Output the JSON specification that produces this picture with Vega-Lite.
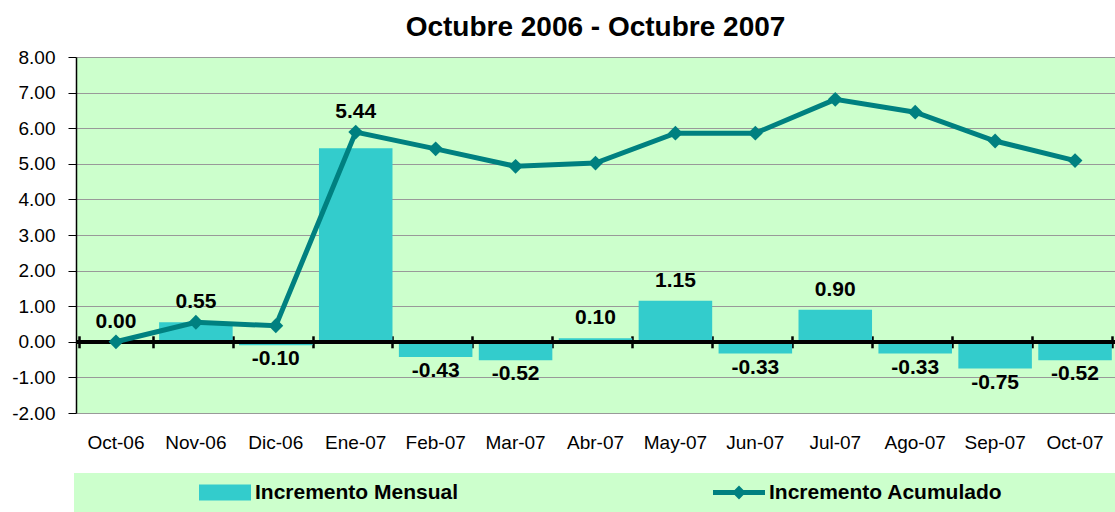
{
  "$schema": "https://vega.github.io/schema/vega-lite/v6.json",
  "width": 1039,
  "height": 356,
  "autosize": {"type": "none"},
  "padding": {"left": 76, "top": 57, "right": 0, "bottom": 99},
  "background": "white",
  "title": {
    "text": "Octubre 2006 - Octubre 2007",
    "font": "Liberation Sans",
    "fontSize": 28,
    "fontWeight": "bold",
    "color": "black",
    "anchor": "middle",
    "offset": 6
  },
  "data": {
    "values": [
      {"mes": "Oct-06", "mensual": 0.00, "acum": 0.00},
      {"mes": "Nov-06", "mensual": 0.55, "acum": 0.55},
      {"mes": "Dic-06", "mensual": -0.10, "acum": 0.45},
      {"mes": "Ene-07", "mensual": 5.44, "acum": 5.89},
      {"mes": "Feb-07", "mensual": -0.43, "acum": 5.42},
      {"mes": "Mar-07", "mensual": -0.52, "acum": 4.93},
      {"mes": "Abr-07", "mensual": 0.10, "acum": 5.02},
      {"mes": "May-07", "mensual": 1.15, "acum": 5.86},
      {"mes": "Jun-07", "mensual": -0.33, "acum": 5.86},
      {"mes": "Jul-07", "mensual": 0.90, "acum": 6.81},
      {"mes": "Ago-07", "mensual": -0.33, "acum": 6.45},
      {"mes": "Sep-07", "mensual": -0.75, "acum": 5.64},
      {"mes": "Oct-07", "mensual": -0.52, "acum": 5.09}
    ]
  },
  "resolve": {"axis": {"x": "independent"}},
  "layer": [
    {
      "mark": {"type": "bar"},
      "encoding": {
        "x": {
          "field": "mes", "type": "nominal", "sort": null,
          "scale": {"paddingInner": 0.08, "paddingOuter": 0.04},
          "axis": {
            "orient": "bottom", "title": null, "labelAngle": 0,
            "ticks": false, "domain": false, "grid": false,
            "labelPadding": 20, "labelFont": "Liberation Sans",
            "labelFontSize": 19, "labelColor": "black"
          }
        },
        "y": {
          "field": "mensual", "type": "quantitative",
          "scale": {"domain": [-2, 8], "nice": false, "zero": false},
          "axis": {
            "title": null, "orient": "left", "values": [-2, -1, 0, 1, 2, 3, 4, 5, 6, 7, 8],
            "format": ".2f", "grid": true, "gridColor": "#999999", "gridWidth": 1,
            "domain": true, "domainColor": "black", "domainWidth": 1.5,
            "ticks": true, "tickColor": "black", "tickSize": 8, "tickWidth": 1,
            "labelPadding": 13, "labelFont": "Liberation Sans",
            "labelFontSize": 19, "labelColor": "black"
          }
        },
        "color": {
          "datum": "Incremento Mensual",
          "scale": {
            "domain": ["Incremento Mensual", "Incremento Acumulado"],
            "range": ["#33CCCC", "#008080"]
          },
          "legend": {
            "orient": "none", "legendX": -2, "legendY": 416,
            "direction": "horizontal", "title": null,
            "fillColor": "#CCFFCC", "padding": 9, "clipHeight": 21,
            "symbolSize": 2704, "symbolStrokeWidth": 0,
            "symbolOffset": 116, "labelOffset": 4, "columnPadding": 138,
            "labelFont": "Liberation Sans", "labelFontSize": 21,
            "labelFontWeight": "bold", "labelColor": "black", "labelLimit": 900,
            "labelExpr": "datum.label === 'Incremento Acumulado' ? datum.label + '\u00a0\u00a0\u00a0\u00a0\u00a0\u00a0\u00a0\u00a0\u00a0\u00a0\u00a0\u00a0\u00a0\u00a0\u00a0\u00a0\u00a0\u00a0\u200b' : datum.label",
            "encode": {
              "symbols": {
                "update": {
                  "shape": {"signal": "datum.value === 'Incremento Mensual' ? 'M-1,-0.31H1V0.31H-1Z' : 'M-1,-0.1H-0.17L0,-0.27L0.17,-0.1H1V0.1H0.17L0,0.27L-0.17,0.1H-1Z'"},
                  "fill": {"signal": "datum.value === 'Incremento Mensual' ? '#33CCCC' : '#008080'"},
                  "stroke": {"value": "transparent"},
                  "opacity": {"value": 1}
                }
              }
            }
          }
        }
      }
    },
    {
      "mark": {"type": "rule", "color": "black", "strokeWidth": 3.5},
      "encoding": {
        "y": {
          "datum": 0, "type": "quantitative",
          "scale": {"domain": [-2, 8], "nice": false, "zero": false},
          "axis": {
            "title": null, "orient": "left", "values": [-2, -1, 0, 1, 2, 3, 4, 5, 6, 7, 8],
            "format": ".2f", "grid": true, "gridColor": "#999999", "gridWidth": 1,
            "domain": true, "domainColor": "black", "domainWidth": 1.5,
            "ticks": true, "tickColor": "black", "tickSize": 8, "tickWidth": 1,
            "labelPadding": 13, "labelFont": "Liberation Sans",
            "labelFontSize": 19, "labelColor": "black"
          }
        }
      }
    },
    {
      "mark": {"type": "line", "strokeWidth": 5},
      "encoding": {
        "x": {
          "field": "mes", "type": "nominal", "sort": null,
          "axis": {
            "orient": "bottom", "offset": -77.2, "title": null,
            "labels": false, "domain": false, "grid": false,
            "ticks": true, "tickBand": "extent", "tickSize": 12,
            "tickWidth": 2.5, "tickColor": "black"
          }
        },
        "y": {
          "field": "acum", "type": "quantitative",
          "scale": {"domain": [-2, 8], "nice": false, "zero": false},
          "axis": {
            "title": null, "orient": "left", "values": [-2, -1, 0, 1, 2, 3, 4, 5, 6, 7, 8],
            "format": ".2f", "grid": true, "gridColor": "#999999", "gridWidth": 1,
            "domain": true, "domainColor": "black", "domainWidth": 1.5,
            "ticks": true, "tickColor": "black", "tickSize": 8, "tickWidth": 1,
            "labelPadding": 13, "labelFont": "Liberation Sans",
            "labelFontSize": 19, "labelColor": "black"
          }
        },
        "color": {"datum": "Incremento Acumulado"}
      }
    },
    {
      "mark": {"type": "point", "shape": "diamond", "filled": true, "size": 220, "color": "#008080", "opacity": 1},
      "encoding": {
        "x": {"field": "mes", "type": "nominal", "sort": null, "axis": null},
        "y": {
          "field": "acum", "type": "quantitative",
          "scale": {"domain": [-2, 8], "nice": false, "zero": false},
          "axis": {
            "title": null, "orient": "left", "values": [-2, -1, 0, 1, 2, 3, 4, 5, 6, 7, 8],
            "format": ".2f", "grid": true, "gridColor": "#999999", "gridWidth": 1,
            "domain": true, "domainColor": "black", "domainWidth": 1.5,
            "ticks": true, "tickColor": "black", "tickSize": 8, "tickWidth": 1,
            "labelPadding": 13, "labelFont": "Liberation Sans",
            "labelFontSize": 19, "labelColor": "black"
          }
        }
      }
    },
    {
      "transform": [
        {"filter": "datum.mensual >= 0"},
        {"calculate": "datum.acum > datum.mensual && datum.acum - datum.mensual < 1 ? datum.acum : datum.mensual", "as": "posEtiqueta"}
      ],
      "mark": {"type": "text", "baseline": "alphabetic", "dy": -14, "font": "Liberation Sans", "fontSize": 21, "fontWeight": "bold", "color": "black"},
      "encoding": {
        "x": {"field": "mes", "type": "nominal", "sort": null, "axis": null},
        "y": {
          "field": "posEtiqueta", "type": "quantitative",
          "scale": {"domain": [-2, 8], "nice": false, "zero": false},
          "axis": {
            "title": null, "orient": "left", "values": [-2, -1, 0, 1, 2, 3, 4, 5, 6, 7, 8],
            "format": ".2f", "grid": true, "gridColor": "#999999", "gridWidth": 1,
            "domain": true, "domainColor": "black", "domainWidth": 1.5,
            "ticks": true, "tickColor": "black", "tickSize": 8, "tickWidth": 1,
            "labelPadding": 13, "labelFont": "Liberation Sans",
            "labelFontSize": 19, "labelColor": "black"
          }
        },
        "text": {"field": "mensual", "type": "quantitative", "format": ".2f"}
      }
    },
    {
      "transform": [{"filter": "datum.mensual < 0"}],
      "mark": {"type": "text", "baseline": "top", "dy": 3, "font": "Liberation Sans", "fontSize": 21, "fontWeight": "bold", "color": "black"},
      "encoding": {
        "x": {"field": "mes", "type": "nominal", "sort": null, "axis": null},
        "y": {
          "field": "mensual", "type": "quantitative",
          "scale": {"domain": [-2, 8], "nice": false, "zero": false},
          "axis": {
            "title": null, "orient": "left", "values": [-2, -1, 0, 1, 2, 3, 4, 5, 6, 7, 8],
            "format": ".2f", "grid": true, "gridColor": "#999999", "gridWidth": 1,
            "domain": true, "domainColor": "black", "domainWidth": 1.5,
            "ticks": true, "tickColor": "black", "tickSize": 8, "tickWidth": 1,
            "labelPadding": 13, "labelFont": "Liberation Sans",
            "labelFontSize": 19, "labelColor": "black"
          }
        },
        "text": {"field": "mensual", "type": "quantitative", "format": ".2f"}
      }
    }
  ],
  "config": {
    "view": {"fill": "#CCFFCC", "stroke": null},
    "font": "Liberation Sans",
    "locale": {
      "number": {"decimal": ".", "thousands": ",", "grouping": [3], "currency": ["$", ""], "minus": "-"}
    }
  }
}
